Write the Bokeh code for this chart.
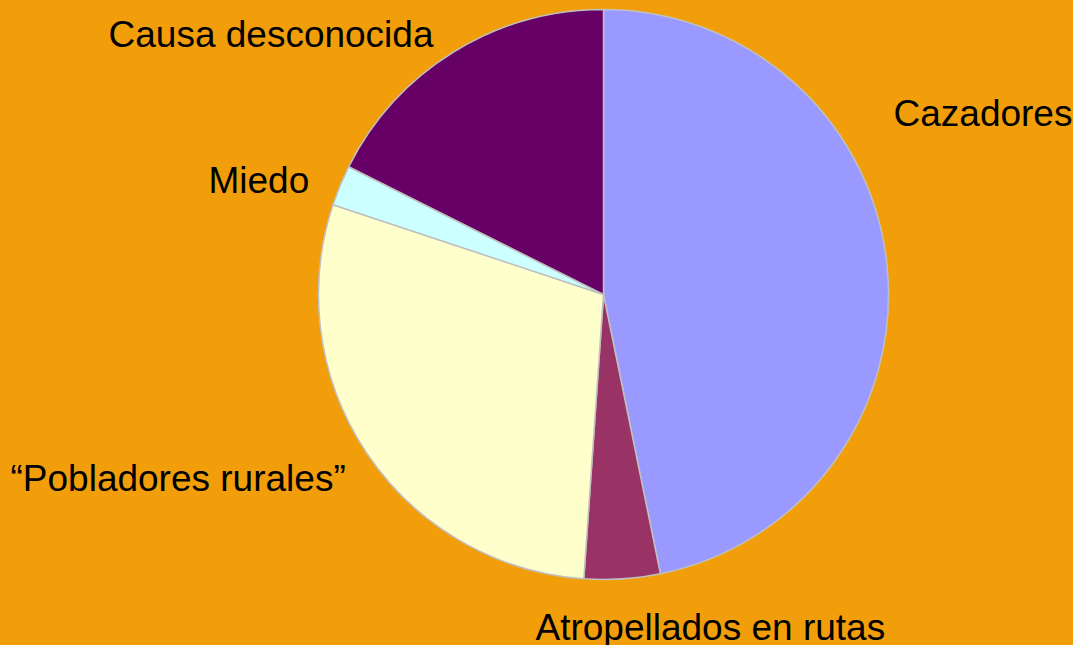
import math
from bokeh.plotting import figure
from bokeh.models import Range1d, ColumnDataSource
from bokeh.core.properties import value
from bokeh.embed import file_html
from bokeh.resources import INLINE

# Data
categories = ["Cazadores", "Atropellados en rutas", "\u201cPobladores rurales\u201d", "Miedo", "Causa desconocida"]
values = [46.8, 4.3, 29.0, 2.3, 17.6]
colors = ["#9999FF", "#993366", "#FFFFCC", "#CCFFFF", "#660066"]

BG = "#F29E0B"
W, H = 1073, 645
# data coords == screen pixels (y flipped)
cx, cy, r = 603, -294, 285

total = sum(values)
starts, ends = [], []
cum = 0.0
for v in values:
    starts.append(math.pi / 2 - 2 * math.pi * cum / total)
    cum += v
    ends.append(math.pi / 2 - 2 * math.pi * cum / total)

src = ColumnDataSource(dict(start=starts, end=ends, color=colors, cat=categories))

p = figure(width=W, height=H, output_backend="svg", toolbar_location=None,
           x_range=Range1d(0, W), y_range=Range1d(-H, 0),
           min_border=0)
p.axis.visible = False
p.grid.visible = False
p.outline_line_color = None
p.background_fill_color = BG
p.border_fill_color = BG

p.wedge(x=cx, y=cy, radius=r, start_angle="start", end_angle="end", direction="clock",
        fill_color="color", line_color="#C0C0C0", line_width=1.5, source=src)

# label placement (screen pixels: left x, vertical middle y)
label_x = [893, 535, 10, 208, 108]
label_y = [-113, -627, -478, -180, -34]
lsrc = ColumnDataSource(dict(x=label_x, y=label_y, t=categories))
p.text(x="x", y="y", text="t", source=lsrc, text_font=value("Liberation Sans"),
       text_font_size="37px", text_color="black", text_align="left",
       text_baseline="middle")

html = file_html(p, INLINE)
style = "<style>html, body { margin: 0 !important; padding: 0 !important; background-color: %s; overflow: hidden; }</style>" % BG
html = html.replace("</head>", style + "</head>", 1)
open("out.html", "w").write(html)
